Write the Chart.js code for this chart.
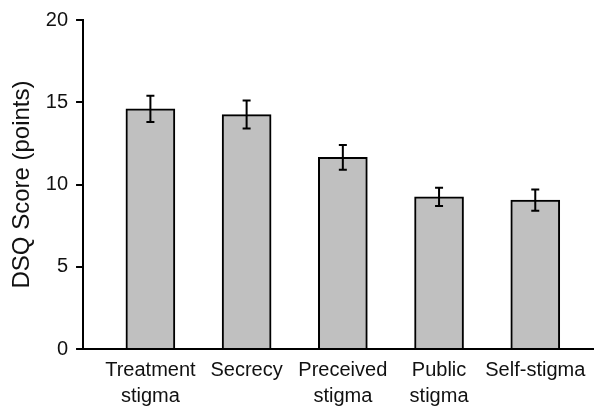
<!DOCTYPE html>
<html>
<head>
<meta charset="utf-8">
<script src="https://cdn.jsdelivr.net/npm/chart.js@4"></script>
<style>
    html, body { margin: 0; padding: 0; background: #fff; }
    #wrap { width: 609px; height: 411px; }
</style>
</head>
<body>
<div id="wrap"><canvas id="dsqChart"></canvas></div>
<script>
// chart values
const categories = [['Treatment', 'stigma'], 'Secrecy', ['Preceived', 'stigma'], ['Public', 'stigma'], 'Self-stigma'];
const scores = [14.6, 14.25, 11.65, 9.25, 9.05];
const errors = [0.8, 0.85, 0.75, 0.55, 0.65];
const yTicks = [0, 5, 10, 15, 20];

const ctx = document.getElementById('dsqChart').getContext('2d');

// draws the error bars on top of the bars
const errorBars = {
    id: 'errorBars',
    afterDatasetsDraw(chart) {
        const x = chart.scales.x;
        const y = chart.scales.y;
        const c = chart.ctx;
        c.save();
        c.strokeStyle = '#000';
        c.lineWidth = 2;
        scores.forEach((v, i) => {
            const px = x.getPixelForValue(i);
            const top = y.getPixelForValue(v + errors[i]);
            const bot = y.getPixelForValue(v - errors[i]);
            c.beginPath();
            c.moveTo(px, top);
            c.lineTo(px, bot);
            c.moveTo(px - 4, top);
            c.lineTo(px + 4, top);
            c.moveTo(px - 4, bot);
            c.lineTo(px + 4, bot);
            c.stroke();
        });
        c.restore();
    }
};

const chartData = {
    datasets: [{
        data: scores.map((v, i) => ({ x: i, y: v })),
        backgroundColor: '#c0c0c0',
        borderColor: '#000',
        borderWidth: 2,
        borderSkipped: 'bottom',
        barThickness: 49,
    }]
};

const myChart = new Chart(ctx, {
    type: 'bar',
    data: chartData,
    options: {
        responsive: true,
        maintainAspectRatio: false,
        animation: false,
        layout: { padding: { top: 6, left: 7, right: 16, bottom: 2 } },
        plugins: { legend: { display: false }, tooltip: { enabled: false } },
        scales: {
            x: {
                type: 'linear',
                min: -0.7,
                max: 4.6,
                offset: false,
                afterBuildTicks: (scale) => {
                    scale.ticks = categories.map((c, i) => ({ value: i }));
                },
                grid: { display: false, offset: false },
                border: { display: true, color: '#000', width: 2 },
                ticks: {
                    color: '#111',
                    font: { family: 'Liberation Sans, Arial, sans-serif', size: 20, lineHeight: 1.3 },
                    padding: 0,
                    maxRotation: 0,
                    autoSkip: false,
                    callback: (value) => categories[value],
                },
            },
            y: {
                min: 0,
                max: 20,
                afterBuildTicks: (scale) => {
                    scale.ticks = yTicks.map(v => ({ value: v }));
                },
                grid: {
                    drawOnChartArea: false,
                    drawTicks: true,
                    tickLength: 7,
                    color: '#000',
                    lineWidth: 2,
                },
                border: { display: true, color: '#000', width: 2 },
                ticks: {
                    color: '#111',
                    font: { family: 'Liberation Sans, Arial, sans-serif', size: 20 },
                    padding: 8,
                },
                title: {
                    display: true,
                    text: 'DSQ Score (points)',
                    color: '#111',
                    font: { family: 'Liberation Sans, Arial, sans-serif', size: 24 },
                    padding: 1,
                },
            },
        },
    },
    plugins: [errorBars],
});
</script>
</body>
</html>
